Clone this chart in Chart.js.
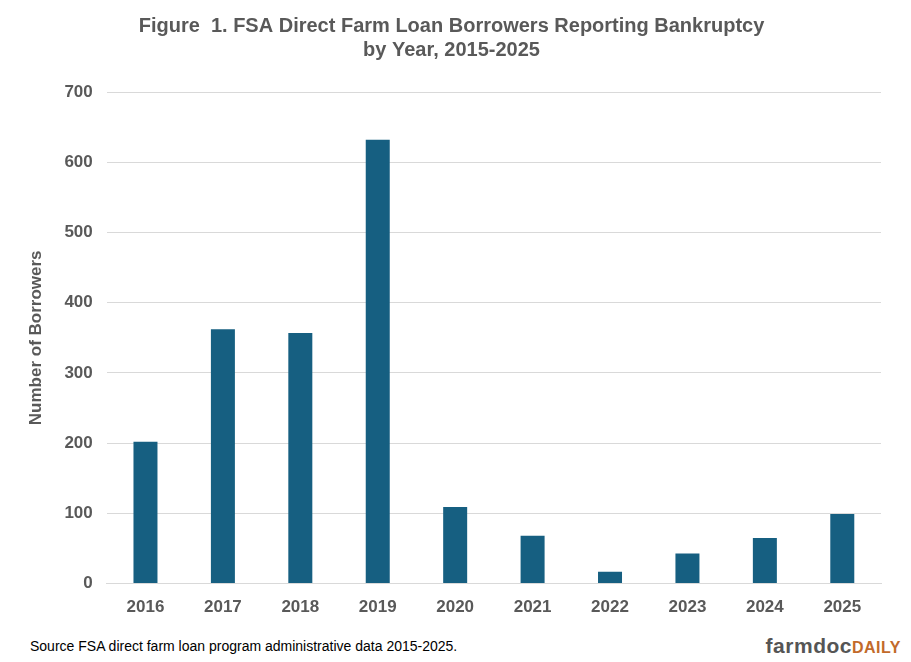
<!DOCTYPE html>
<html>
<head>
<meta charset="utf-8">
<script src="https://cdn.jsdelivr.net/npm/chart.js@4"></script>
<style>
  body { margin: 0; background: #fff; font-family: Arial, "Liberation Sans", sans-serif; }
  #wrap { position: relative; width: 911px; height: 662px; }
  #chartBox { position: absolute; left: 0; top: 0; width: 911px; height: 624px; }
  #source { position: absolute; left: 30px; top: 638px; font-size: 14px; color: #000; }
  #logo { position: absolute; right: 10px; top: 634px; font-size: 21px; font-weight: bold; color: #555; letter-spacing: 0.5px; }
  #logo span { color: #c26a2a; font-size: 16px; }
</style>
</head>
<body>
<div id="wrap">
  <div id="chartBox"><canvas id="c"></canvas></div>
  <div id="source">Source FSA direct farm loan program administrative data 2015-2025.</div>
  <div id="logo">farmdoc<span>DAILY</span></div>
</div>
<script>
const years = ['2016', '2017', '2018', '2019', '2020', '2021', '2022', '2023', '2024', '2025'];
const borrowers = [202, 362, 357, 632, 109, 68, 17, 43, 65, 99];

new Chart(document.getElementById('c').getContext('2d'), {
    type: 'bar',
    data: {
        labels: years,
        datasets: [{
            label: 'Borrowers',
            data: borrowers,
            backgroundColor: '#165f81',
            barPercentage: 0.62,
            categoryPercentage: 0.5
        }]
    },
    options: {
        responsive: true,
        maintainAspectRatio: false,
        animation: false,
        layout: { padding: { left: 22, right: 30, top: 6, bottom: 0 } },
        plugins: {
            legend: { display: false },
            tooltip: { enabled: false },
            title: {
                display: true,
                text: ['Figure  1. FSA Direct Farm Loan Borrowers Reporting Bankruptcy', 'by Year, 2015-2025'],
                color: '#595959',
                font: { size: 20, weight: 'bold', family: 'Arial' },
                padding: { top: 8, bottom: 30 }
            }
        },
        scales: {
            x: {
                grid: { display: false },
                border: { color: '#d9d9d9' },
                ticks: { color: '#595959', font: { size: 17, weight: 'bold', family: 'Arial' }, padding: 6 }
            },
            y: {
                min: 0,
                max: 700,
                ticks: { stepSize: 100, color: '#595959', font: { size: 17, weight: 'bold', family: 'Arial' }, padding: 14 },
                grid: { color: '#d9d9d9', drawTicks: false },
                border: { display: false },
                title: {
                    display: true,
                    text: 'Number of Borrowers',
                    color: '#595959',
                    font: { size: 17, weight: 'bold', family: 'Arial' }
                }
            }
        }
    }
});
</script>
</body>
</html>
